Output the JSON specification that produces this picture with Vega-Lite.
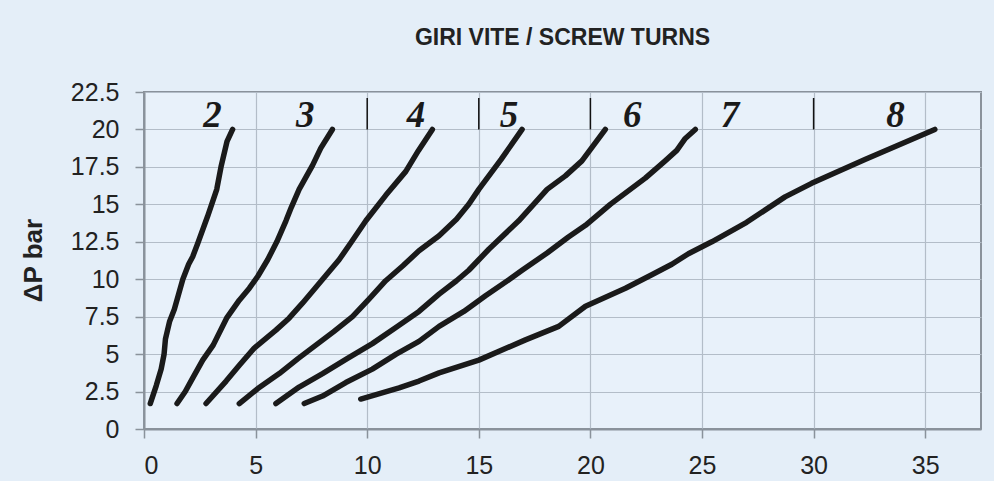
{
  "$schema": "https://vega.github.io/schema/vega-lite/v6.json",
  "autosize": {"type": "none"},
  "width": 837,
  "height": 337,
  "padding": {"left": 144, "top": 92, "right": 13, "bottom": 52},
  "background": "#e4eef8",
  "config": {
    "view": {"fill": "#e8f1fa", "stroke": "#8a929b", "strokeWidth": 2},
    "font": "Liberation Sans",
    "axis": {
      "grid": true, "gridColor": "#b3bdc8", "gridWidth": 1.2,
      "domainColor": "#8a929b", "domainWidth": 2,
      "tickColor": "#8a929b", "tickWidth": 1.5, "tickSize": 9,
      "labelFont": "Liberation Sans", "labelColor": "#222222", "labelOverlap": false, "labelFontSize": 25
    },
    "axisY": {
      "labelPadding": 16, "labelSeparation": 0,
      "titleFont": "Liberation Sans", "titleFontSize": 26, "titleFontWeight": "bold", "titleColor": "#222222",
      "titleAngle": -90, "titleX": -111, "titleY": 168, "titleAlign": "center", "titleBaseline": "middle"
    }
  },
  "title": {
    "text": "GIRI VITE / SCREW TURNS",
    "frame": "group",
    "anchor": "middle",
    "baseline": "alphabetic",
    "offset": 12,
    "font": "Liberation Sans",
    "fontSize": 23,
    "fontWeight": "bold",
    "color": "#222222"
  },
  "datasets": {
    "curves": [
      {"c": "2", "x": 0.28, "y": 1.7}, {"c": "2", "x": 0.55, "y": 2.9}, {"c": "2", "x": 0.77, "y": 4.0}, {"c": "2", "x": 0.9, "y": 5.0}, {"c": "2", "x": 0.96, "y": 6.0}, {"c": "2", "x": 1.15, "y": 7.2}, {"c": "2", "x": 1.36, "y": 8.0}, {"c": "2", "x": 1.55, "y": 9.0}, {"c": "2", "x": 1.74, "y": 10.0}, {"c": "2", "x": 2.0, "y": 11.0}, {"c": "2", "x": 2.18, "y": 11.5}, {"c": "2", "x": 2.41, "y": 12.4}, {"c": "2", "x": 2.85, "y": 14.2}, {"c": "2", "x": 3.26, "y": 16.0}, {"c": "2", "x": 3.45, "y": 17.5}, {"c": "2", "x": 3.72, "y": 19.2}, {"c": "2", "x": 3.97, "y": 20.0},
      {"c": "3", "x": 1.48, "y": 1.7}, {"c": "3", "x": 1.85, "y": 2.5}, {"c": "3", "x": 2.18, "y": 3.4}, {"c": "3", "x": 2.63, "y": 4.6}, {"c": "3", "x": 3.1, "y": 5.6}, {"c": "3", "x": 3.7, "y": 7.4}, {"c": "3", "x": 4.27, "y": 8.6}, {"c": "3", "x": 4.72, "y": 9.4}, {"c": "3", "x": 5.1, "y": 10.2}, {"c": "3", "x": 5.54, "y": 11.3}, {"c": "3", "x": 5.95, "y": 12.5}, {"c": "3", "x": 6.36, "y": 13.9}, {"c": "3", "x": 6.6, "y": 14.8}, {"c": "3", "x": 6.95, "y": 16.0}, {"c": "3", "x": 7.25, "y": 16.8}, {"c": "3", "x": 7.55, "y": 17.6}, {"c": "3", "x": 7.92, "y": 18.75}, {"c": "3", "x": 8.44, "y": 20.0},
      {"c": "4", "x": 2.78, "y": 1.7}, {"c": "4", "x": 3.68, "y": 3.2}, {"c": "4", "x": 4.3, "y": 4.3}, {"c": "4", "x": 4.94, "y": 5.4}, {"c": "4", "x": 5.91, "y": 6.6}, {"c": "4", "x": 6.5, "y": 7.4}, {"c": "4", "x": 7.1, "y": 8.4}, {"c": "4", "x": 7.92, "y": 9.85}, {"c": "4", "x": 8.74, "y": 11.3}, {"c": "4", "x": 9.3, "y": 12.5}, {"c": "4", "x": 9.94, "y": 13.9}, {"c": "4", "x": 10.83, "y": 15.6}, {"c": "4", "x": 11.73, "y": 17.2}, {"c": "4", "x": 12.3, "y": 18.6}, {"c": "4", "x": 12.92, "y": 20.0},
      {"c": "5", "x": 4.27, "y": 1.7}, {"c": "5", "x": 5.1, "y": 2.7}, {"c": "5", "x": 6.06, "y": 3.7}, {"c": "5", "x": 6.9, "y": 4.7}, {"c": "5", "x": 7.7, "y": 5.6}, {"c": "5", "x": 8.5, "y": 6.5}, {"c": "5", "x": 9.34, "y": 7.5}, {"c": "5", "x": 10.1, "y": 8.7}, {"c": "5", "x": 10.83, "y": 9.9}, {"c": "5", "x": 11.6, "y": 10.9}, {"c": "5", "x": 12.32, "y": 11.9}, {"c": "5", "x": 13.22, "y": 12.9}, {"c": "5", "x": 14.0, "y": 14.0}, {"c": "5", "x": 14.55, "y": 15.0}, {"c": "5", "x": 15.0, "y": 16.0}, {"c": "5", "x": 16.0, "y": 18.0}, {"c": "5", "x": 16.94, "y": 20.0},
      {"c": "6", "x": 5.91, "y": 1.7}, {"c": "6", "x": 6.95, "y": 2.8}, {"c": "6", "x": 8.0, "y": 3.7}, {"c": "6", "x": 9.1, "y": 4.7}, {"c": "6", "x": 10.23, "y": 5.7}, {"c": "6", "x": 11.3, "y": 6.8}, {"c": "6", "x": 12.32, "y": 7.85}, {"c": "6", "x": 13.22, "y": 9.0}, {"c": "6", "x": 14.0, "y": 9.9}, {"c": "6", "x": 14.55, "y": 10.6}, {"c": "6", "x": 15.0, "y": 11.3}, {"c": "6", "x": 15.45, "y": 12.0}, {"c": "6", "x": 16.79, "y": 13.9}, {"c": "6", "x": 18.06, "y": 16.0}, {"c": "6", "x": 18.88, "y": 16.9}, {"c": "6", "x": 19.62, "y": 17.9}, {"c": "6", "x": 20.67, "y": 20.0},
      {"c": "7", "x": 7.18, "y": 1.7}, {"c": "7", "x": 8.0, "y": 2.2}, {"c": "7", "x": 9.04, "y": 3.1}, {"c": "7", "x": 10.23, "y": 4.0}, {"c": "7", "x": 11.3, "y": 5.0}, {"c": "7", "x": 12.32, "y": 5.85}, {"c": "7", "x": 13.22, "y": 6.85}, {"c": "7", "x": 14.33, "y": 7.85}, {"c": "7", "x": 15.3, "y": 8.9}, {"c": "7", "x": 16.35, "y": 9.97}, {"c": "7", "x": 16.94, "y": 10.6}, {"c": "7", "x": 18.06, "y": 11.75}, {"c": "7", "x": 19.0, "y": 12.8}, {"c": "7", "x": 19.78, "y": 13.6}, {"c": "7", "x": 20.89, "y": 15.0}, {"c": "7", "x": 22.46, "y": 16.75}, {"c": "7", "x": 23.35, "y": 17.9}, {"c": "7", "x": 23.87, "y": 18.6}, {"c": "7", "x": 24.25, "y": 19.4}, {"c": "7", "x": 24.7, "y": 20.0},
      {"c": "8", "x": 9.71, "y": 2.0}, {"c": "8", "x": 11.43, "y": 2.75}, {"c": "8", "x": 12.32, "y": 3.2}, {"c": "8", "x": 13.22, "y": 3.75}, {"c": "8", "x": 15.0, "y": 4.6}, {"c": "8", "x": 17.09, "y": 5.95}, {"c": "8", "x": 18.58, "y": 6.85}, {"c": "8", "x": 19.78, "y": 8.2}, {"c": "8", "x": 21.57, "y": 9.4}, {"c": "8", "x": 22.75, "y": 10.3}, {"c": "8", "x": 23.65, "y": 11.0}, {"c": "8", "x": 24.39, "y": 11.7}, {"c": "8", "x": 25.44, "y": 12.5}, {"c": "8", "x": 27.0, "y": 13.8}, {"c": "8", "x": 28.72, "y": 15.5}, {"c": "8", "x": 29.91, "y": 16.4}, {"c": "8", "x": 32.3, "y": 18.0}, {"c": "8", "x": 35.43, "y": 20.0}
    ],
    "labels": [
      {"t": "2", "x": 3.07, "y": 20}, {"t": "3", "x": 7.22, "y": 20}, {"t": "4", "x": 12.19, "y": 20}, {"t": "5", "x": 16.35, "y": 20}, {"t": "6", "x": 21.88, "y": 20}, {"t": "7", "x": 26.26, "y": 20}, {"t": "8", "x": 33.67, "y": 20}
    ],
    "seps": [
      {"x": 10, "y": 20, "y2": 22.1}, {"x": 15, "y": 20, "y2": 22.1}, {"x": 20, "y": 20, "y2": 22.1}, {"x": 30, "y": 20, "y2": 22.1}
    ]
  },
  "encoding": {
    "x": {
      "field": "x", "type": "quantitative",
      "scale": {"domain": [0, 37.5], "nice": false, "zero": false},
      "axis": {"title": null, "tickCount": 8, "labelOverlap": false, "labelPadding": 15, "labelFontSize": 25}
    },
    "y": {
      "field": "y", "type": "quantitative",
      "scale": {"domain": [0, 22.5], "nice": false},
      "axis": {"title": "ΔP bar", "values": [0, 2.5, 5, 7.5, 10, 12.5, 15, 17.5, 20, 22.5], "labelExpr": "'' + datum.value", "labelOverlap": false, "labelFontSize": 25}
    }
  },
  "layer": [
    {
      "data": {"name": "curves"},
      "mark": {"type": "line", "color": "#1a1a1a", "strokeWidth": 5.5, "strokeCap": "round", "strokeJoin": "round"},
      "encoding": {
        "detail": {"field": "c", "type": "nominal"}
      }
    },
    {
      "data": {"name": "seps"},
      "mark": {"type": "rule", "color": "#111111", "strokeWidth": 1.5},
      "encoding": {
        "y2": {"field": "y2"}
      }
    },
    {
      "data": {"name": "labels"},
      "mark": {"type": "text", "font": "Liberation Serif", "fontSize": 37, "fontStyle": "italic", "fontWeight": "bold", "color": "#1a1a1a", "baseline": "alphabetic", "align": "center", "dy": -2},
      "encoding": {
        "text": {"field": "t"}
      }
    }
  ]
}
